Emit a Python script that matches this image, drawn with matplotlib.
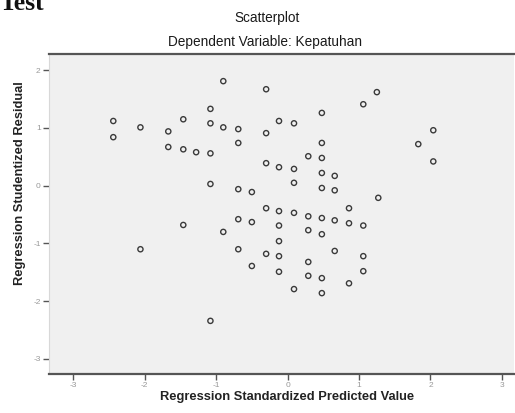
import matplotlib
matplotlib.use("Agg")
import matplotlib.pyplot as plt

# Data (standardized predicted value, studentized residual)
pred = [-0.90, -0.30, 1.25, 1.06, -1.08, 0.48, -2.44, -2.06, -1.46, -1.08,
        -0.90, -0.69, -1.67, -2.44, -0.30, -0.12, 0.09, 2.04, -0.69, 0.48,
        1.83, -1.67, -1.46, -1.28, -1.08, 0.29, 0.48, 2.04, -0.30, -0.12,
        0.09, 0.48, 0.66, -1.08, -0.69, -0.50, 0.09, 0.48, 0.66, 1.27,
        -0.30, -0.12, 0.09, 0.29, 0.48, 0.66, 0.86, 0.86, 1.06, -0.69,
        -0.50, -0.12, -0.90, 0.29, 0.48, -1.46, -0.12, -0.69, -0.30, -0.12,
        0.66, 1.06, 0.29, -0.50, -0.12, 0.29, 0.48, 1.06, 0.86, 0.09,
        0.48, -2.06, -1.08]
resid = [1.81, 1.67, 1.62, 1.41, 1.33, 1.26, 1.12, 1.01, 1.15, 1.08,
         1.01, 0.98, 0.94, 0.84, 0.91, 1.12, 1.08, 0.96, 0.74, 0.74,
         0.72, 0.67, 0.63, 0.58, 0.56, 0.51, 0.48, 0.42, 0.39, 0.32,
         0.29, 0.22, 0.17, 0.03, -0.06, -0.11, 0.05, -0.04, -0.08, -0.21,
         -0.39, -0.44, -0.47, -0.53, -0.56, -0.60, -0.39, -0.65, -0.69, -0.58,
         -0.63, -0.69, -0.80, -0.77, -0.84, -0.68, -0.96, -1.10, -1.18, -1.22,
         -1.13, -1.22, -1.32, -1.39, -1.49, -1.56, -1.60, -1.48, -1.69, -1.79,
         -1.86, -1.10, -2.34]

xticks = [-3, -2, -1, 0, 1, 2, 3]
yticks = [-3, -2, -1, 0, 1, 2]

plt.rcParams['font.family'] = ['Liberation Sans', 'DejaVu Sans']

fig = plt.figure(figsize=(5.15, 4.13), dpi=100)
ax = fig.add_axes([49/515, 1-374/413, 465/515, 320/413])
ax.set_facecolor('#f0f0f0')

ax.scatter(pred, resid, s=14, facecolors='none', edgecolors='#3a3a3a', linewidths=1.0)

ax.set_xlim(-3.34, 3.17)
ax.set_ylim(-3.26, 2.28)
ax.set_xticks(xticks)
ax.set_yticks(yticks)
ax.set_xticklabels([str(t) for t in xticks])
ax.set_yticklabels([str(t) for t in yticks])
ax.tick_params(axis='both', direction='out', length=4, width=1, color='#555555',
               labelsize=6, labelcolor='#999999', pad=2)

for side in ['top', 'bottom']:
    ax.spines[side].set_color('#555555')
    ax.spines[side].set_linewidth(1.6)
ax.spines['left'].set_color('#d8d8d8')
ax.spines['left'].set_linewidth(0.8)
ax.spines['right'].set_visible(False)

ax.set_xlabel('Regression Standardized Predicted Value', fontsize=9.3,
              fontweight='bold', color='#222222')
ax.set_ylabel('Regression Studentized Residual', fontsize=9.3,
              fontweight='bold', color='#222222')
ax.xaxis.set_label_coords((287 - 49) / 465, (374 - 391) / 320)
ax.yaxis.set_label_coords((26 - 49) / 465, (374 - 183) / 320)

fig.text(267/515, 1-18/413, 'Scatterplot', ha='center', va='center',
         fontsize=9.8, color='#1a1a1a')
fig.text(265/515, 1-42/413, 'Dependent Variable: Kepatuhan', ha='center',
         va='center', fontsize=9.8, color='#1a1a1a')
fig.text(0.0, 1-10/413, 'Test', ha='left', va='baseline', fontsize=18.5,
         fontweight='bold', family=['Liberation Serif', 'DejaVu Serif'],
         color='#111111')

fig.savefig('out.png', dpi=100)
